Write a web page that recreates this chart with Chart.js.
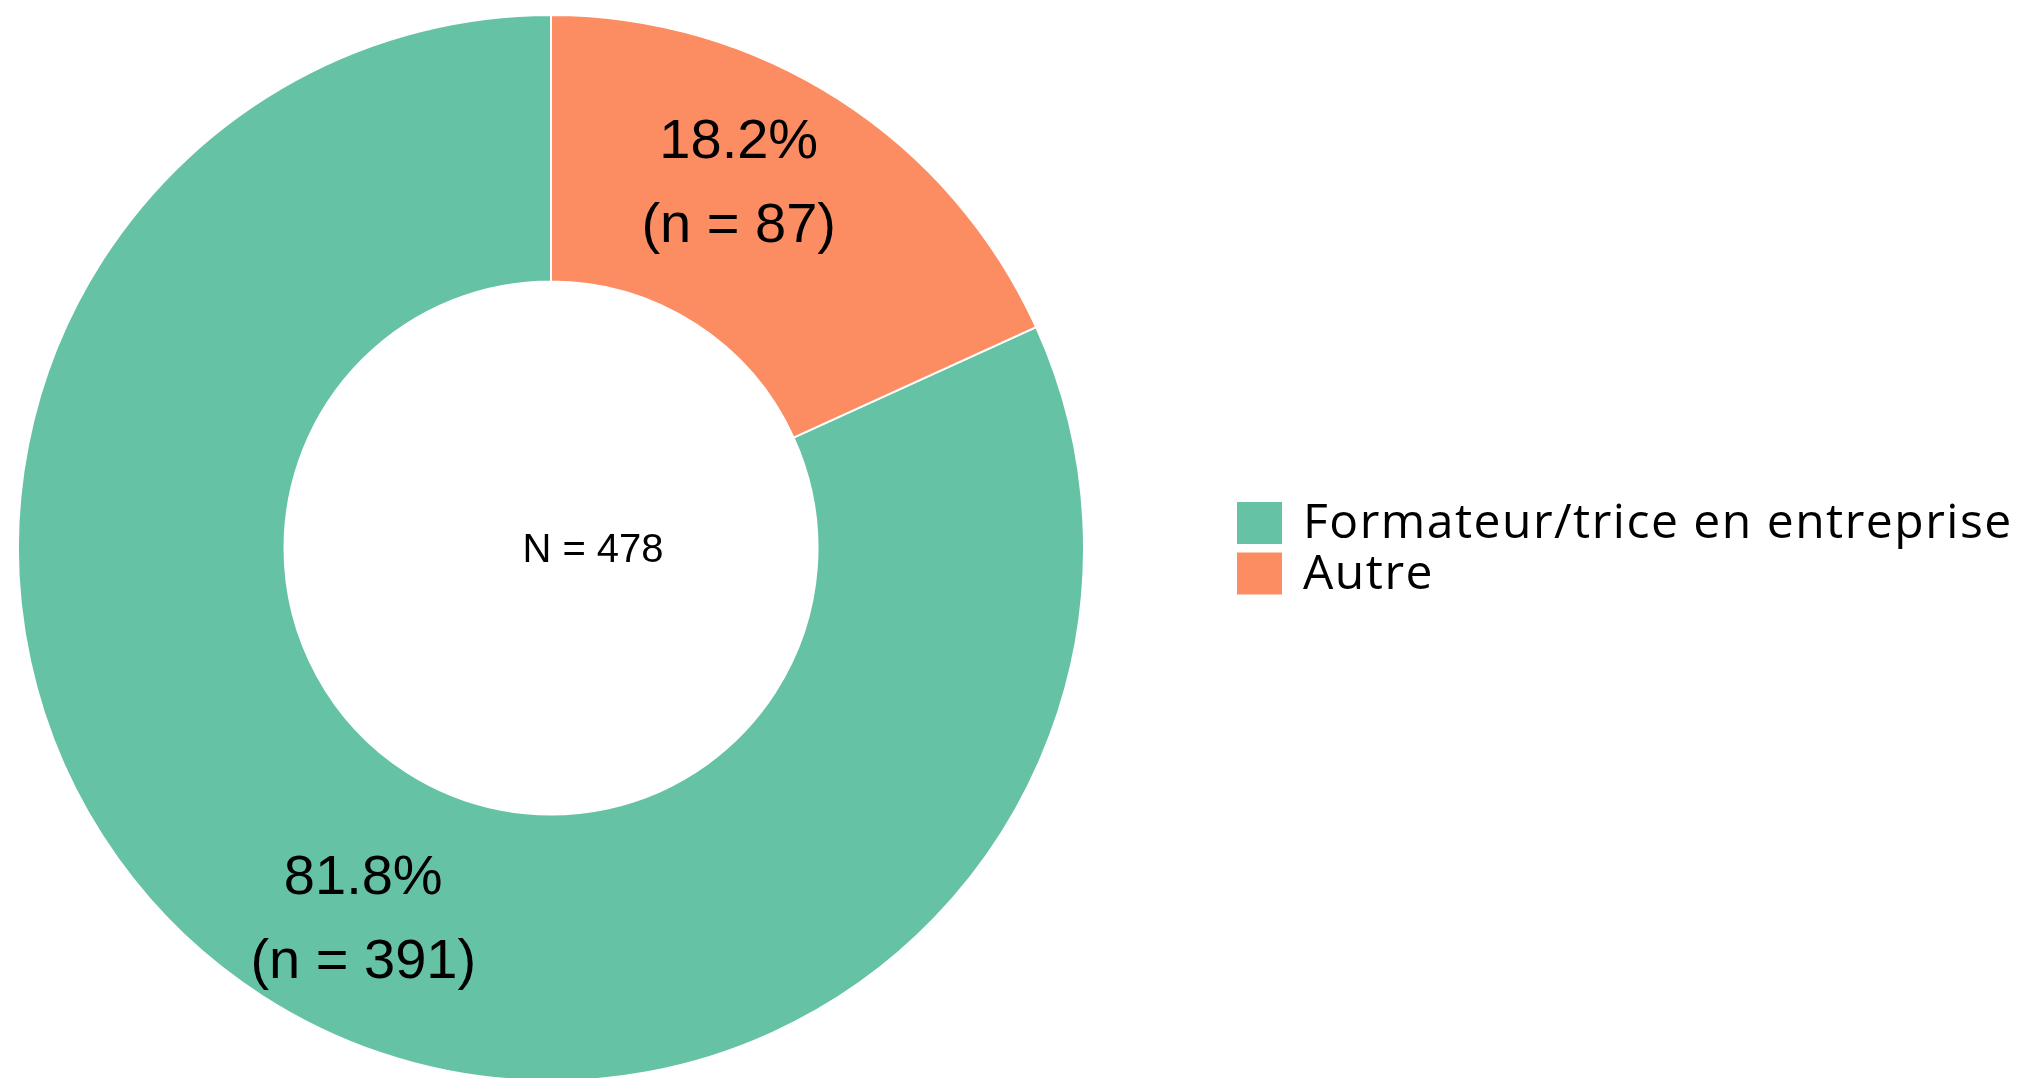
<!DOCTYPE html>
<html>
<head>
<meta charset="utf-8">
<script src="https://cdn.jsdelivr.net/npm/chart.js@4/dist/chart.umd.min.js"></script>
<style>
  html, body { margin: 0; padding: 0; background: #fff; overflow: hidden; }
  #wrap { width: 2017px; height: 1078px; overflow: hidden; }
</style>
</head>
<body>
<div id="wrap"><canvas id="donut" width="2017" height="1082"></canvas></div>
<script>
const categories = ["Formateur/trice en entreprise", "Autre"];
const counts = [391, 87];
const percentLabels = ["81.8%", "18.2%"];
const countLabels = ["(n = 391)", "(n = 87)"];
const totalLabel = "N = 478";
const colors = ["#66c2a5", "#fc8d62"];

const total = counts.reduce((a, b) => a + b, 0);

// slice labels, centre total and the legend on the right
const annotate = {
  id: "annotate",
  afterDatasetsDraw(chart) {
    const ctx = chart.ctx;
    const meta = chart.getDatasetMeta(0);
    ctx.save();
    ctx.fillStyle = "#000";
    ctx.textAlign = "center";
    ctx.textBaseline = "alphabetic";
    ctx.font = '56px "Liberation Sans", Arial, sans-serif';
    let cx = 0, cy = 0;
    meta.data.forEach((arc, i) => {
      const p = arc.getProps(["x", "y", "startAngle", "endAngle", "outerRadius"], true);
      cx = p.x; cy = p.y;
      const a = (p.startAngle + p.endAngle) / 2 - 0.1;
      const r = p.outerRadius * 0.775;
      const px = p.x + r * Math.cos(a);
      const py = p.y + r * Math.sin(a);
      ctx.fillText(percentLabels[i], px, py - 42 + 20);
      ctx.fillText(countLabels[i], px, py + 42 + 20);
    });
    ctx.font = '40px "Liberation Sans", Arial, sans-serif';
    ctx.fillText(totalLabel, cx + 42, cy + 14);

    // legend
    ctx.textAlign = "left";
    ctx.font = '48px "Open Sans", sans-serif';
    ctx.letterSpacing = "1.5px";
    categories.forEach((c, i) => {
      const top = 502 + i * 50.5;
      ctx.fillStyle = colors[i];
      ctx.fillRect(1237, top, 45, 42);
      ctx.fillStyle = "#000";
      ctx.fillText(c, 1303, top + 36);
    });
    ctx.restore();
  }
};

new Chart(document.getElementById("donut"), {
  type: "doughnut",
  data: {
    labels: categories,
    datasets: [{
      data: counts,
      backgroundColor: colors,
      borderColor: "#ffffff",
      borderWidth: 2
    }]
  },
  options: {
    responsive: false,
    animation: false,
    cutout: "50%",
    rotation: 360 * counts[1] / total,
    layout: { padding: { left: 17, top: 14, right: 932, bottom: 0 } },
    plugins: {
      legend: { display: false },
      tooltip: { enabled: false }
    }
  },
  plugins: [annotate]
});
</script>
</body>
</html>
